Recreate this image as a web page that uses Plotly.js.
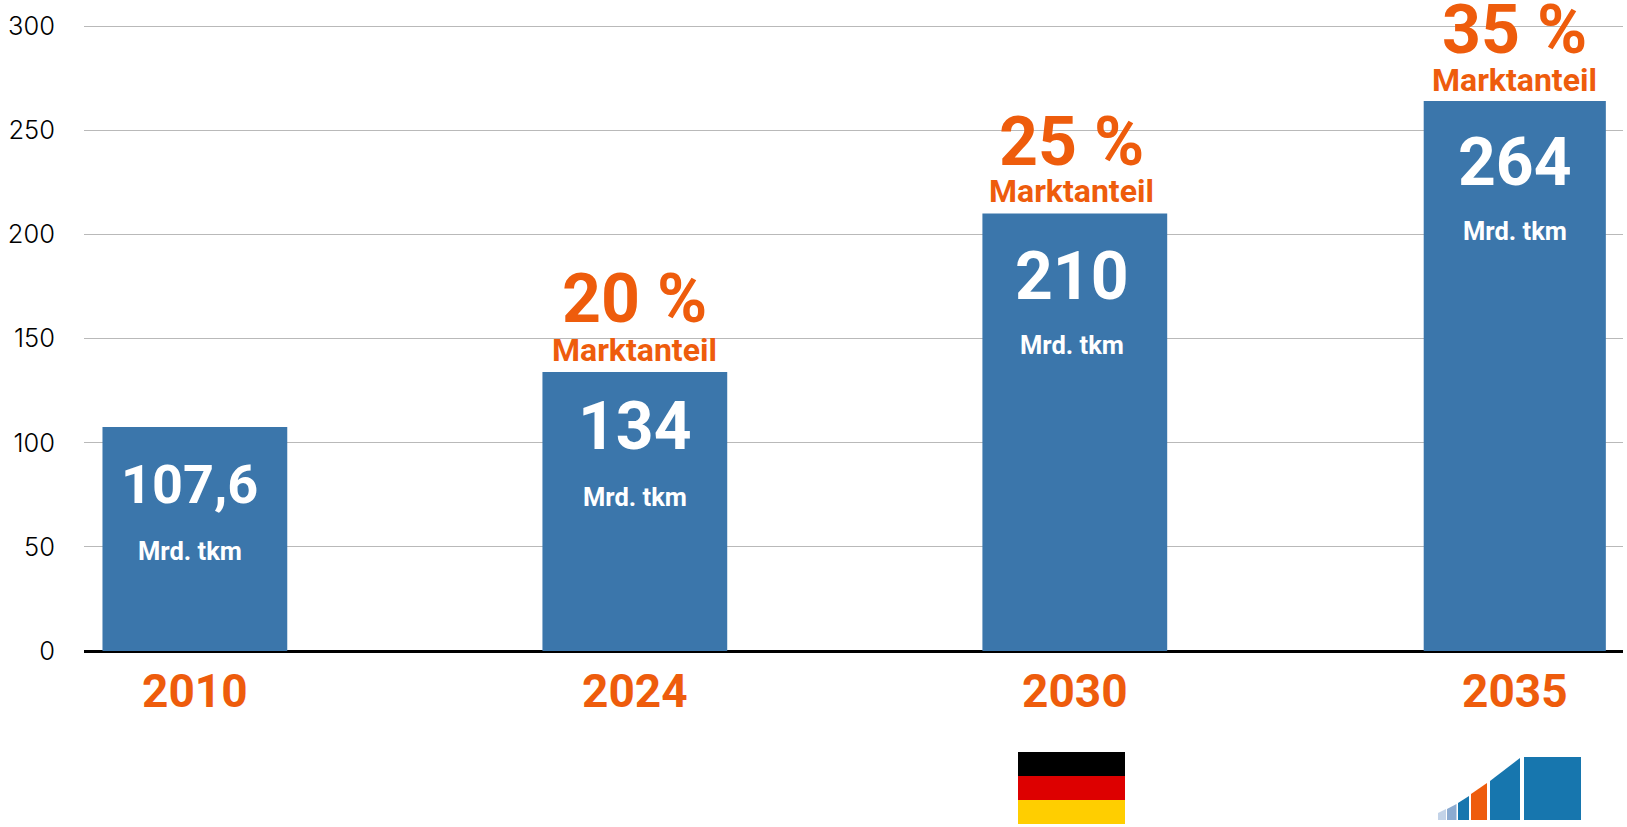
<!DOCTYPE html>
<html>
<head>
<meta charset="utf-8">
<script src="https://cdn.plot.ly/plotly-3.0.1.min.js"></script>
<style>html,body{margin:0;padding:0;background:#fff;overflow:hidden}#chart{width:1627px;height:827px}</style>
</head>
<body>
<div id="chart"></div>
<script>
const years = ['2010', '2024', '2030', '2035'];
const values = [107.6, 134, 210, 264];
const valueLabels = ['107,6', '134', '210', '264'];
const shareLabels = [null, '20 %', '25 %', '35 %'];
const unitLabel = 'Mrd. tkm';
const shareCaption = 'Marktanteil';
const yTicks = [0, 50, 100, 150, 200, 250, 300];

const W = 1627, H = 827;
const M = {l: 84, r: 4, t: 23, b: 176};
const BLUE = '#3b76ab', ORANGE = '#ee5c0c', FONT = 'Roboto, sans-serif';
const barWidths = [0.42, 0.42, 0.42, 0.414];
const labelShift = [-5, 0, -3, 0];
const valueOffset = [-58, -55, -63, -61];
const unitOffset = [-124, -125, -131, -130];
const valueSize = [54, 66, 66, 66];
const shareOffset = [0, 73, 72, 71];
const captionOffset = [0, 22, 23, 21];

const px = x => (x - M.l) / (W - M.l - M.r);
const py = y => 1 - (y - M.t) / (H - M.t - M.b);
function rect(x0, y0, x1, y1, color) {
  return {type: 'rect', xref: 'paper', yref: 'paper', layer: 'above',
    x0: px(x0), x1: px(x1), y0: py(y0), y1: py(y1),
    fillcolor: color, line: {width: 0}};
}
function poly(points, color) {
  const d = points.map((p, i) => (i ? 'L' : 'M') + px(p[0]) + ' ' + py(p[1])).join(' ') + ' Z';
  return {type: 'path', xref: 'paper', yref: 'paper', layer: 'above', path: d,
    fillcolor: color, line: {width: 0}};
}
const shapes = [
  rect(1018, 752, 1125, 776, '#000000'),
  rect(1018, 776, 1125, 800, '#dd0000'),
  rect(1018, 800, 1125, 824, '#ffce00'),
  poly([[1438, 820], [1438, 813], [1446, 809], [1446, 820]], '#c3d3e8'),
  poly([[1447, 820], [1447, 809], [1456.5, 804], [1456.5, 820]], '#8cabd1'),
  poly([[1458, 820], [1458, 803], [1469, 796], [1469, 820]], '#1776ae'),
  poly([[1471, 820], [1471, 794], [1487, 783], [1487, 820]], ORANGE),
  poly([[1490, 820], [1490, 781], [1520, 758], [1520, 820]], '#1776ae'),
  rect(1524, 757, 1581, 820, '#1776ae')
];

const annotations = [];
years.forEach((yr, i) => {
  // the category labels look numeric, so annotations address the band by its index
  const base = {x: i, y: values[i], xref: 'x', yref: 'y', showarrow: false,
    xanchor: 'center', yanchor: 'middle', xshift: labelShift[i]};
  annotations.push(Object.assign({}, base, {text: valueLabels[i], yshift: valueOffset[i],
    font: {family: FONT, size: valueSize[i], color: '#fff', weight: 700}}));
  annotations.push(Object.assign({}, base, {text: unitLabel, yshift: unitOffset[i],
    font: {family: FONT, size: 25.5, color: '#fff', weight: 700}}));
  if (shareLabels[i]) {
    annotations.push(Object.assign({}, base, {text: shareLabels[i], yshift: shareOffset[i],
      font: {family: FONT, size: 68, color: ORANGE, weight: 700}}));
    annotations.push(Object.assign({}, base, {text: shareCaption, yshift: captionOffset[i],
      font: {family: FONT, size: 32, color: ORANGE, weight: 700}}));
  }
});

Plotly.newPlot('chart', [{
  type: 'bar', x: years, y: values, width: barWidths,
  marker: {color: BLUE, line: {width: 0}},
  hoverinfo: 'x+y'
}], {
  width: W, height: H, margin: M,
  paper_bgcolor: '#fff', plot_bgcolor: '#fff',
  showlegend: false,
  xaxis: {type: 'category', range: [-0.252, 3.246], fixedrange: true,
    showgrid: false, zeroline: false, showline: false, ticks: '',
    ticklabelstandoff: 9,
    tickfont: {family: FONT, size: 46, color: ORANGE, weight: 700}},
  yaxis: {range: [0, 301.5], tickvals: yTicks, ticktext: yTicks.map(String), fixedrange: true,
    showgrid: true, gridcolor: '#b9b9b9', gridwidth: 1,
    zeroline: true, zerolinecolor: '#000', zerolinewidth: 3, showline: false, ticks: '',
    ticklabelstandoff: 28,
    tickfont: {family: 'Inter, sans-serif', size: 25.5, color: '#000', weight: 300}},
  annotations, shapes
}, {displayModeBar: false});
</script>
</body>
</html>
